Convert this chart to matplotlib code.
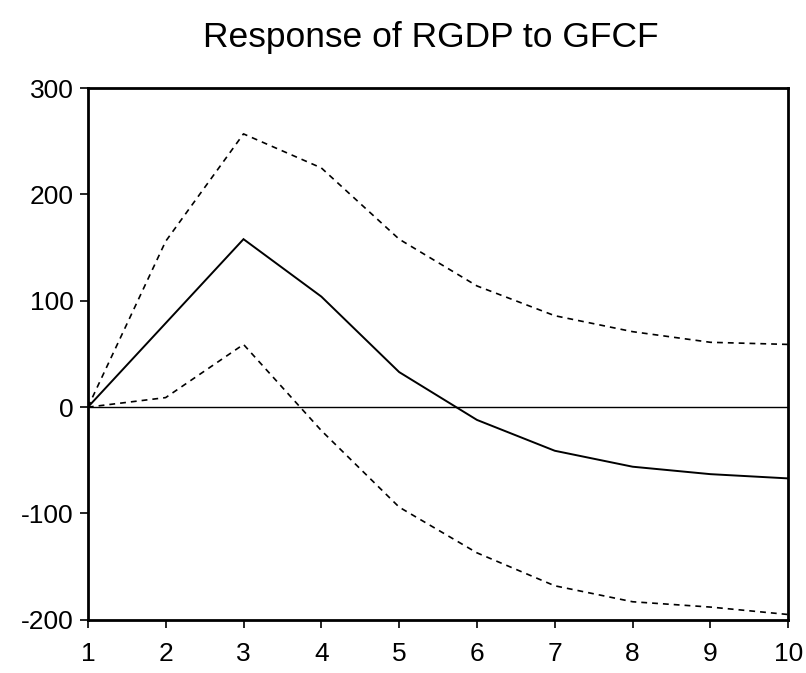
import numpy as np
import matplotlib.pyplot as plt

plt.rcParams["font.family"] = ["Liberation Sans", "DejaVu Sans"]
plt.rcParams["axes.unicode_minus"] = False

# --- data (impulse response, 10 periods) ---
periods = [1, 2, 3, 4, 5, 6, 7, 8, 9, 10]
response = [0, 79, 158, 104, 33, -12, -41, -56, -63, -67]
upper_band = [0, 156, 257, 225, 158, 114, 86, 71, 61, 59]
lower_band = [0, 9, 59, -22, -94, -137, -168, -183, -188, -195]
y_ticks = [-200, -100, 0, 100, 200, 300]

fig = plt.figure(figsize=(8.06, 6.73), dpi=100)
ax = fig.add_axes([0.109, 0.079, 0.869, 0.790])

ax.plot(periods, response, color="black", lw=1.4, solid_joinstyle="miter")
ax.plot(periods, upper_band, color="black", lw=1.2, linestyle=(0, (3.5, 3)))
ax.plot(periods, lower_band, color="black", lw=1.2, linestyle=(0, (3.5, 3)))
ax.axhline(0, color="black", lw=1.0)

ax.set_xlim(1, 10)
ax.set_ylim(-200, 300)
ax.set_xticks(periods)
ax.set_yticks(y_ticks)
ax.tick_params(direction="out", length=6, width=1.2, labelsize=19, color="black")
ax.tick_params(axis="x", pad=10)
ax.tick_params(axis="y", pad=4)
for sp in ax.spines.values():
    sp.set_linewidth(2.0)

fig.text(0.535, 0.945, "Response of RGDP to GFCF", ha="center", va="center", fontsize=25.5)

fig.savefig("out.png", dpi=100)
